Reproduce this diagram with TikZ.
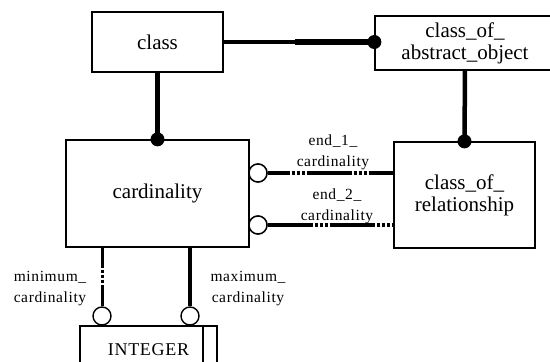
\documentclass[tikz,border=0pt]{standalone}
\usepackage{fontspec}
\setmainfont{Liberation Serif}
\newfontfamily\labfont[LetterSpace=4]{Liberation Serif}
\newfontfamily\intfont[LetterSpace=4]{Liberation Serif}
\begin{document}
\begin{tikzpicture}[x=1pt,y=-1pt,
  entity/.style={draw,line width=1.3pt,fill=white,inner sep=0pt,align=center,font=\fontsize{21}{24}\selectfont},
  rel/.style={line width=4.5pt},
  optrel/.style={line width=3.5pt,dash pattern=on 45pt off 2pt on 3pt off 2pt on 3pt off 2pt on 3pt off 2pt},
  ocirc/.style={draw,circle,line width=1.4pt,fill=white,minimum size=18pt,inner sep=0pt},
  fdot/.style={circle,fill=black,minimum size=14pt,inner sep=0pt},
  lab/.style={align=center,inner sep=0pt,font=\labfont\fontsize{15.5}{21}\selectfont}]
\useasboundingbox (0,0) rectangle (550,362);
\clip (0,0) rectangle (550,362);
\fill[white] (0,0) rectangle (550,362);
% entities
\node[entity,minimum width=131pt,minimum height=60pt] (class) at (157.5,42) {class};
\node[entity,minimum width=180pt,minimum height=54pt] (coa) at (465,43) {class\_of\_\\[-2pt]abstract\_object};
\node[entity,minimum width=183pt,minimum height=107pt] (card) at (157.5,193.5) {cardinality};
\node[entity,minimum width=141pt,minimum height=106pt] (cor) at (464.5,195) {class\_of\_\\[-2pt]relationship};
\node[entity,minimum width=137pt,minimum height=48pt,font=\intfont\fontsize{18}{20}\selectfont] (int) at (148.5,350) {INTEGER};
\draw[line width=1.3pt] (203,326) -- (203,380);
% class -- class_of_abstract_object
\coordinate (mid) at (295,42);
\draw[line width=4.5pt] (class.east) -- (mid);
\draw[line width=6pt] (mid) -- (mid -| coa.west);
\node[fdot] (d1) at (mid -| coa.west) {};
% class -- cardinality
\draw[rel] (class.south) -- (card.north);
\node[fdot] (d2) at (card.north) {};
% coa -- cor
\draw[rel] (coa.south) -- (cor.north);
\node[fdot] (d3) at (cor.north) {};
% end_1, end_2
\node[ocirc] (c1) at (258,173) {};
\node[ocirc] (c2) at (258,225) {};
\draw[optrel,dash phase=23pt] (c1.east) -- (c1 -| cor.west);
\draw[optrel] (c2.east) -- (c2 -| cor.west);
\node[ocirc] at (258,173) {};
\node[ocirc] at (258,225) {};
\node[lab] (l1) at (333,152) {end\_1\_\\cardinality};
\node[lab] (l2) at (337,206) {end\_2\_\\cardinality};
% minimum, maximum
\node[ocirc] (m1) at (102,316) {};
\node[ocirc] (m2) at (190,316) {};
\draw[optrel,line width=3pt,dash phase=25pt] (card.south -| m1) -- (m1.north);
\draw[rel,line width=4pt] (card.south -| m2) -- (m2.north);
\node[lab] (l3) at (50,289) {minimum\_\\cardinality};
\node[lab] (l4) at (248,289) {maximum\_\\cardinality};
\end{tikzpicture}
\end{document}
